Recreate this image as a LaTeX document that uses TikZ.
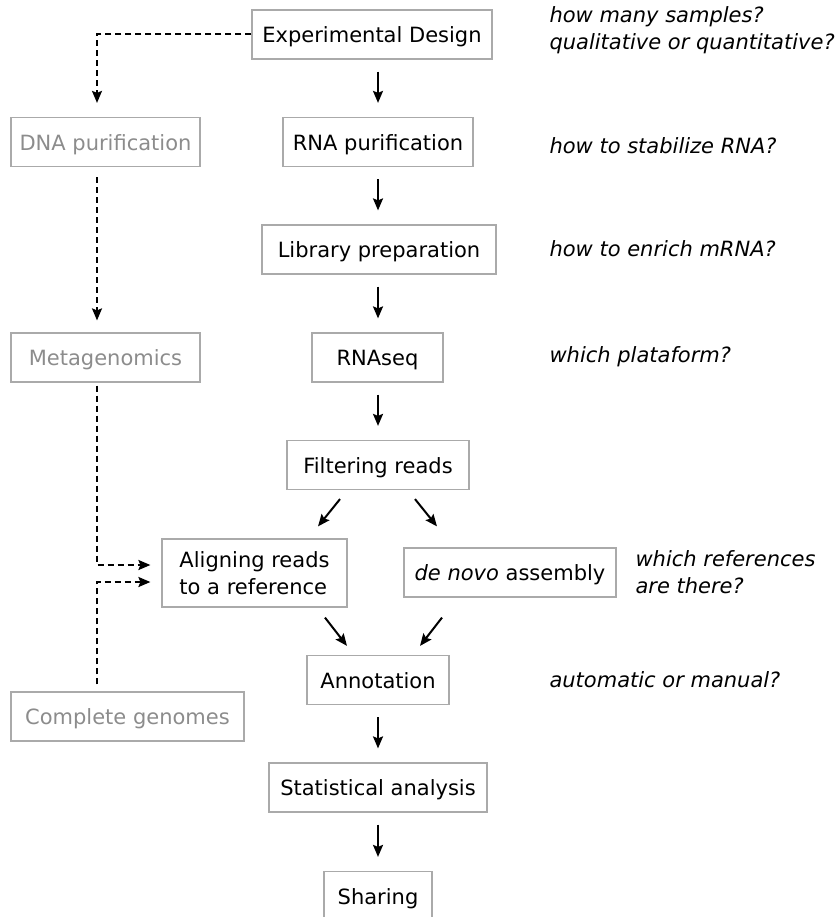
\documentclass[tikz,border=0pt]{standalone}
\usepackage{fontspec}
\setmainfont{DejaVu Sans}
\usetikzlibrary{arrows.meta}

\definecolor{boxgray}{HTML}{AAAAAA}
\definecolor{sidegray}{HTML}{8C8C8C}

\tikzset{
  box/.style={draw=boxgray, line width=1.2pt, minimum height=49pt, inner xsep=0pt, align=left},
  stage/.style={box, text height=18.5pt, text depth=2pt},
  side/.style={stage, text=sidegray},
  question/.style={anchor=west, align=left, font=\fontsize{21}{27}\selectfont\itshape},
  arr/.style={-{Stealth[length=12pt,width=10pt,inset=2pt]}, line width=2pt, shorten <=12pt, shorten >=14pt},
  diag/.style={-{Stealth[length=12pt,width=10pt,inset=2pt]}, line width=2pt},
  darr/.style={-{Stealth[length=12pt,width=10pt,inset=2pt]}, line width=2pt, dash pattern=on 6pt off 4pt},
}

\begin{document}
\begin{tikzpicture}[x=1pt, y=-1pt, font=\fontsize{21}{27}\selectfont]

    \useasboundingbox (0, 0) rectangle (839, 917);
    \clip (0, 0) rectangle (839, 917);

    \node[stage, minimum width=240pt] (exp) at (372, 34.5) {Experimental Design};
    \node[stage, minimum width=190pt] (rna) at (378, 142) {RNA purification};
    \node[stage, minimum width=234pt] (lib) at (379, 249.5) {Library preparation};
    \node[stage, minimum width=131pt] (seq) at (377.5, 357.5) {RNAseq};
    \node[stage, minimum width=182pt] (filt) at (378, 465) {Filtering reads};

    \node[box, minimum width=185pt, minimum height=68pt] (align) at (254.5, 573) {Aligning reads\\to a reference};
    \node[stage, minimum width=212pt] (denovo) at (510, 572.5) {\textit{de novo} assembly};

    \node[stage, minimum width=142pt] (annot) at (378, 680) {Annotation};
    \node[stage, minimum width=218pt] (stat) at (378, 787.5) {Statistical analysis};
    \node[stage, minimum width=108pt] (share) at (378, 896) {Sharing};

    \path[draw, arr] (rna |- exp.south) to (rna);
    \path[draw, arr] (rna) to (lib.north -| rna);
    \path[draw, arr] (lib.south -| rna) to (seq.north -| rna);
    \path[draw, arr] (seq.south -| rna) to (filt);

    \path[draw, diag] ([xshift=-38pt, yshift=-9pt]filt.south) to ([xshift=63.5pt, yshift=12pt]align.north);
    \path[draw, diag] ([xshift=37pt, yshift=-9pt]filt.south) to ([xshift=-73pt, yshift=21pt]denovo.north);
    \path[draw, diag] ([xshift=70.5pt, yshift=-10pt]align.south) to ([xshift=-31pt, yshift=9pt]annot.north);
    \path[draw, diag] ([xshift=-68pt, yshift=-20pt]denovo.south) to ([xshift=42pt, yshift=9pt]annot.north);

    \path[draw, arr] (annot) to (stat);
    \path[draw, arr] (stat) to (share);

    %side

    \node[side, minimum width=189pt] (dna) at (105.5, 142) {DNA purification};
    \node[side, minimum width=189pt] (meta) at (105.5, 357.5) {Metagenomics};
    \node[side, minimum width=233pt] (genomes) at (127.5, 716.5) {Complete genomes};

    \coordinate (lane) at (97, 0);

    \path[draw, darr, shorten >=14pt] (exp.west) -| (lane |- dna.north);
    \path[draw, darr, shorten <=10pt, shorten >=12pt] (lane |- dna.south) to (lane |- meta.north);
    \path[draw, darr, shorten <=3pt, shorten >=11pt] (lane |- meta.south) |- ([yshift=8pt]align.west);
    \path[draw, darr, shorten <=7pt, shorten >=11pt] (lane |- genomes.north) |- ([yshift=-9pt]align.west);

    %questions

    \node[question] (q1) at (546, 30) {how many samples?\\qualitative or quantitative?};
    \node[question] (q2) at (546, 146) {how to stabilize RNA?};
    \node[question] (q3) at (546, 249) {how to enrich mRNA?};
    \node[question] (q4) at (546, 357) {which plataform?};
    \node[question] (q5) at (632, 572) {which references\\are there?};
    \node[question] (q6) at (546, 680) {automatic or manual?};

  \end{tikzpicture}
\end{document}
